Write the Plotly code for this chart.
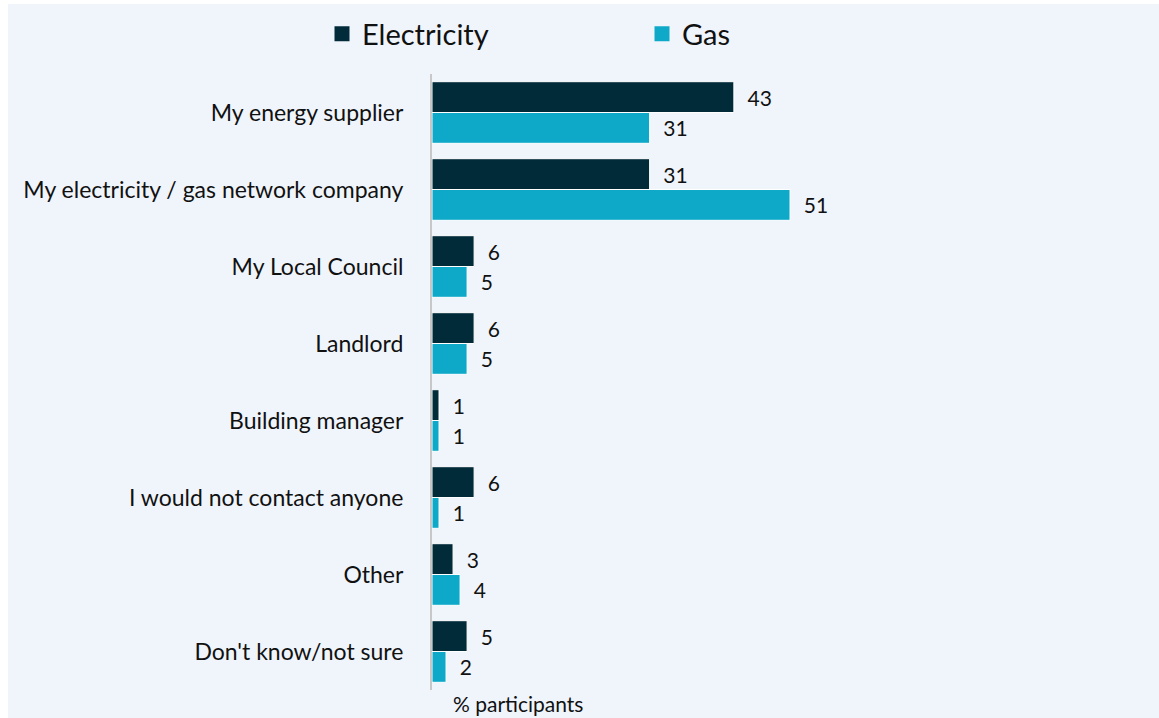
import plotly.graph_objects as go

categories = [
    "My energy supplier",
    "My electricity / gas network company",
    "My Local Council",
    "Landlord",
    "Building manager",
    "I would not contact anyone",
    "Other",
    "Don't know/not sure",
]
electricity = [43, 31, 6, 6, 1, 6, 3, 5]
gas = [31, 51, 5, 5, 1, 1, 4, 2]

ELEC_COLOR = "#022B3A"
GAS_COLOR = "#0EA8C8"
FONT = "Lato, Open Sans, sans-serif"

fig = go.Figure()
series = [("Electricity", electricity, ELEC_COLOR, "legend"),
          ("Gas", gas, GAS_COLOR, "legend2")]
for name, vals, color, leg in series:
    fig.add_trace(go.Bar(
        name=name,
        y=categories,
        x=vals,
        orientation="h",
        marker=dict(color=color, line=dict(color="white", width=1)),
        text=["  " + str(v) for v in vals],
        textposition="outside",
        textfont=dict(size=21, color="#111111", family=FONT),
        cliponaxis=False,
        showlegend=False,
        legendgroup=name,
    ))
    # square swatch shown in the legend for this series
    fig.add_trace(go.Scatter(
        name=name, x=[None], y=[None], mode="markers",
        marker=dict(symbol="square", size=15, color=color),
        legend=leg, legendgroup=name, showlegend=True,
    ))

# panel background
fig.add_shape(type="rect", xref="paper", yref="paper", layer="below",
              x0=-424 / 702, x1=(1159 - 432) / 702, y0=-40 / 616, y1=70 / 616 + 1,
              fillcolor="#F0F5FC", line=dict(width=0))

legend_common = dict(
    orientation="h", xref="container", yref="container",
    yanchor="middle", xanchor="left",
    font=dict(size=29, color="#111111", family=FONT),
    bgcolor="rgba(0,0,0,0)", itemwidth=30,
)

fig.update_layout(
    width=1159, height=718,
    margin=dict(l=432, r=25, t=74, b=28, autoexpand=False),
    paper_bgcolor="white",
    plot_bgcolor="rgba(0,0,0,0)",
    barmode="group",
    bargap=0.2,
    bargroupgap=0.0,
    font=dict(family=FONT, size=23, color="#111111"),
    legend=dict(legend_common, x=322 / 1159, y=1 - 34 / 718),
    legend2=dict(legend_common, x=642 / 1159, y=1 - 34 / 718),
    xaxis=dict(range=[0, 100], showgrid=False, zeroline=False, showticklabels=False,
               ticks="", showline=False),
    yaxis=dict(autorange="reversed", showgrid=False, zeroline=False,
               showline=True, linecolor="#C8C8C8", linewidth=2,
               ticks="", ticklabelstandoff=22,
               tickfont=dict(size=23, color="#111111", family=FONT)),
    annotations=[dict(text="% participants", xref="paper", yref="paper",
                      x=86 / 702, y=-13 / 616, xanchor="center", yanchor="middle",
                      showarrow=False, font=dict(size=21, color="#111111", family=FONT))],
)

fig.write_html("out.html")
